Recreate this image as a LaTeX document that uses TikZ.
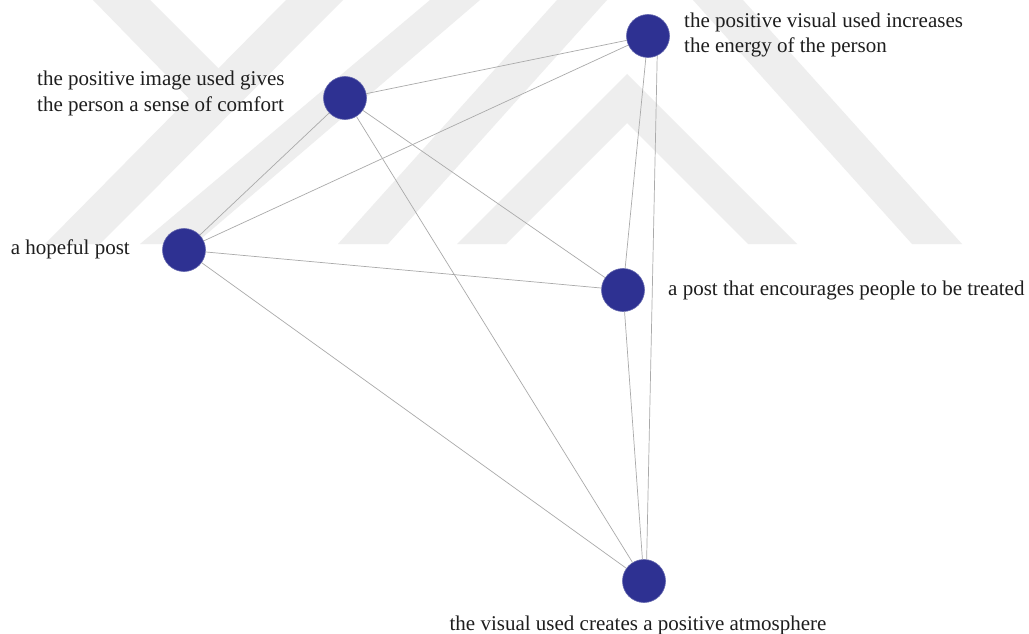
\documentclass[tikz,border=0pt]{standalone}
\usepackage{fontspec}
\setmainfont{Liberation Serif}
\definecolor{nodeblue}{RGB}{46,49,146}
\definecolor{edgegray}{RGB}{170,170,170}
\definecolor{wmgray}{RGB}{238,238,238}
\definecolor{txtcol}{RGB}{30,30,30}
\begin{document}
\begin{tikzpicture}[x=1pt,y=-1pt,
  dot/.style={circle,fill=nodeblue,draw=nodeblue!75!white,line width=0.6pt,minimum size=43pt,inner sep=0pt},
  lbl/.style={inner sep=0pt,text=txtcol,font=\fontsize{21}{25.5}\selectfont,align=left},
  link/.style={draw=edgegray,line width=0.7pt},
  wm/.style={fill=wmgray,draw=none}]
\useasboundingbox (0,0) rectangle (1029,634);
\fill[white] (0,0) rectangle (1029,634);
% watermark
\fill[wm] (45,244) -- (100,244) -- (343,0) -- (286,0) -- cycle;
\fill[wm] (140,244) -- (195,244) -- (480,0) -- (430,0) -- cycle;
\fill[wm] (93,0) -- (150,0) -- (235,85) -- (205,115) -- cycle;
\fill[wm] (338,244) -- (557,0) -- (607,0) -- (388,244) -- cycle;
\fill[wm] (693,0) -- (743,0) -- (962,244) -- (912,244) -- cycle;
\fill[wm] (457,244) -- (627,74) -- (797,244) -- (748,244) -- (627,123) -- (506,244) -- cycle;
% nodes
\node[dot] (img) at (345,98) {};
\node[dot] (vis) at (648,36) {};
\node[dot] (hope) at (184,250) {};
\node[dot] (post) at (623,290) {};
\node[dot] (atm) at (644,581) {};
% labels
\node[lbl,anchor=west] (limg) at (37,93.5) {the positive image used gives\\the person a sense of comfort};
\node[lbl,anchor=west] (lvis) at (684,35) {the positive visual used increases\\the energy of the person};
\node[lbl,anchor=east] (lhope) at (130,249) {a hopeful post};
\node[lbl,anchor=west] (lpost) at (668,290) {a post that encourages people to be treated};
\node[lbl] (latm) at (638,625) {the visual used creates a positive atmosphere};
% links
\draw[link] (img) -- (vis);
\draw[link] (img) -- (hope);
\draw[link] (img) -- (post);
\draw[link] (img) -- (atm);
\draw[link] (vis) -- (hope);
\draw[link] (vis) -- (post);
\draw[link] (vis.-65) -- (atm.83);
\draw[link] (hope) -- (post);
\draw[link] (hope) -- (atm);
\draw[link] (post) -- (atm);
\end{tikzpicture}
\end{document}
